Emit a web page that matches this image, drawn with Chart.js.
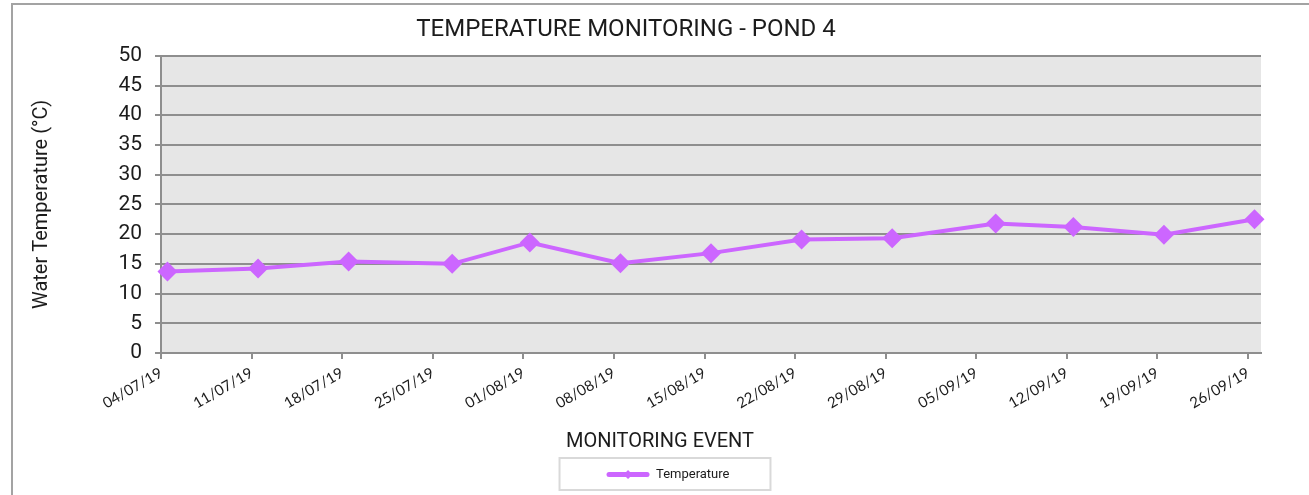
<!DOCTYPE html>
<html>
<head>
<meta charset="utf-8">
<script src="https://cdn.jsdelivr.net/npm/chart.js@4.4.1/dist/chart.umd.min.js"></script>
<style>
  html, body { margin: 0; padding: 0; background: #ffffff; overflow: hidden; }
  canvas { display: block; }
</style>
</head>
<body>
<canvas id="chart" width="1309" height="495"></canvas>
<script>
// ---- data ----
const sampleDates = ['04/07/19','11/07/19','18/07/19','26/07/19','01/08/19','08/08/19','15/08/19','22/08/19','29/08/19','06/09/19','12/09/19','19/09/19','26/09/19'];
const temperatures = [13.7, 14.2, 15.4, 15.0, 18.6, 15.1, 16.8, 19.1, 19.3, 21.8, 21.2, 19.9, 22.5];
const tickLabels = ['04/07/19','11/07/19','18/07/19','25/07/19','01/08/19','08/08/19','15/08/19','22/08/19','29/08/19','05/09/19','12/09/19','19/09/19','26/09/19'];
const seriesName = 'Temperature';
const chartTitle = 'TEMPERATURE MONITORING - POND 4';
const xTitle = 'MONITORING EVENT';
const yTitle = 'Water Temperature (\u00B0C)';

// ---- helpers ----
function dayNumber(s) {
  const [d, m, y] = s.split('/').map(Number);
  return Date.UTC(2000 + y, m - 1, d) / 86400000;
}
const day0 = dayNumber(tickLabels[0]);
const points = sampleDates.map((s, i) => ({ x: dayNumber(s) - day0, y: temperatures[i] }));
// date axis: each day occupies one unit, tick marks sit at the start of the day
const tickDays = tickLabels.map(s => dayNumber(s) - day0 - 0.5);

const LINE = '#cc66ff';
const GRID = '#8e8e8e';
const TEXT = '#1c1c1c';

Chart.defaults.font.family = 'Roboto, "Liberation Sans", sans-serif';
Chart.defaults.color = TEXT;

function shiftBox(box, center) {
  if (!box) return;
  const d = center - (box.left + box.right) / 2;
  box.left += d; box.right += d;
}

const decor = {
  id: 'decor',
  beforeDraw(chart) {
    const { ctx, chartArea: a } = chart;
    ctx.save();
    ctx.fillStyle = '#ffffff';
    ctx.fillRect(0, 0, chart.width, chart.height);
    ctx.fillStyle = '#e6e6e6';
    ctx.fillRect(a.left, a.top, a.right - a.left, a.bottom - a.top);
    ctx.restore();
  },
  afterLayout(chart) {
    shiftBox(chart.titleBlock, 626);
    const TitleCls = chart.titleBlock.constructor;
    chart.boxes.forEach(b => {
      if (b !== chart.titleBlock && b instanceof TitleCls) shiftBox(b, 660);
    });
    shiftBox(chart.legend, 668);
  },
  afterDraw(chart) {
    const { ctx } = chart;
    ctx.save();
    // outer chart frame
    ctx.strokeStyle = '#a3a3a3';
    ctx.lineWidth = 2;
    ctx.beginPath();
    ctx.moveTo(12, chart.height);
    ctx.lineTo(12, 4);
    ctx.lineTo(chart.width, 4);
    ctx.stroke();
    // legend frame + marker
    const lg = chart.legend;
    const hb = lg && lg.legendHitBoxes && lg.legendHitBoxes[0];
    if (hb) {
      ctx.strokeStyle = '#d9d9d9';
      ctx.lineWidth = 2;
      ctx.strokeRect(hb.left - 47, lg.top, hb.width + 88, lg.bottom - lg.top - 1);
      const cx = hb.left + 21.5, cy = hb.top + hb.height / 2;
      ctx.fillStyle = LINE;
      ctx.beginPath();
      ctx.moveTo(cx, cy - 4.5); ctx.lineTo(cx + 4.5, cy); ctx.lineTo(cx, cy + 4.5); ctx.lineTo(cx - 4.5, cy);
      ctx.closePath(); ctx.fill();
    }
    ctx.restore();
  }
};

new Chart(document.getElementById('chart'), {
  type: 'line',
  data: {
    datasets: [{
      label: seriesName,
      data: points,
      borderColor: LINE,
      backgroundColor: LINE,
      borderWidth: 4,
      tension: 0,
      pointStyle: 'rectRot',
      pointRadius: 10,
      pointHoverRadius: 10,
      pointBackgroundColor: LINE,
      pointBorderColor: LINE,
      pointBorderWidth: 0,
      clip: false
    }]
  },
  options: {
    responsive: false,
    animation: false,
    devicePixelRatio: 1,
    layout: { padding: { left: 11, right: 48, top: 0, bottom: 4 } },
    scales: {
      x: {
        type: 'linear',
        min: tickDays[0],
        max: tickDays[tickDays.length - 1] + 1,
        afterBuildTicks(scale) { scale.ticks = tickDays.map(v => ({ value: v })); },
        afterFit(scale) { scale.height = 60; },
        ticks: {
          autoSkip: false,
          minRotation: 30,
          maxRotation: 30,
          padding: 5,
          color: TEXT,
          font: { family: 'Lato, "Open Sans", sans-serif', size: 15 },
          callback: (v, i) => tickLabels[i]
        },
        grid: { drawOnChartArea: false, drawTicks: true, tickLength: 6, color: GRID, lineWidth: 2 },
        border: { display: true, color: GRID, width: 2 }
      },
      y: {
        min: 0,
        max: 50,
        afterFit(scale) { scale.width = 150; },
        ticks: { stepSize: 5, padding: 13, color: TEXT, font: { size: 21 } },
        grid: { color: GRID, lineWidth: 2, tickLength: 6, drawTicks: true },
        border: { display: true, color: GRID, width: 2 },
        title: { display: true, text: yTitle, color: TEXT, font: { size: 20 }, padding: { top: 19, bottom: 0 } }
      }
    },
    plugins: {
      title: {
        display: true,
        text: chartTitle,
        color: TEXT,
        font: { size: 24, weight: 'normal' },
        padding: { top: 16, bottom: 11 }
      },
      subtitle: {
        display: true,
        position: 'bottom',
        text: xTitle,
        color: TEXT,
        font: { size: 20, weight: 'normal' },
        padding: { top: 17, bottom: 4 }
      },
      legend: {
        display: true,
        position: 'bottom',
        weight: 2000,
        labels: {
          boxWidth: 43,
          boxHeight: 5,
          padding: 10,
          color: TEXT,
          font: { size: 13 },
          generateLabels(chart) {
            return Chart.defaults.plugins.legend.labels.generateLabels(chart)
              .map(l => Object.assign(l, { lineWidth: 0, fillStyle: LINE, borderRadius: 2.5 }));
          }
        }
      },
      tooltip: { enabled: false }
    }
  },
  plugins: [decor]
});
</script>
</body>
</html>
